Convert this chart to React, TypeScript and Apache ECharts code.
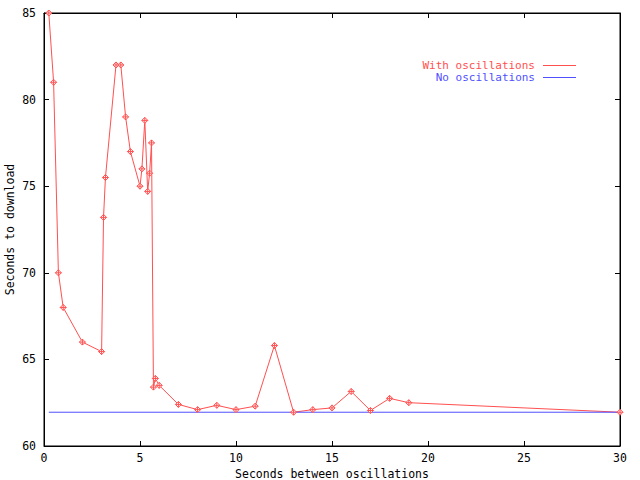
import React, { useEffect, useRef } from "react";
import * as echarts from "echarts";

const xValues = [0.25, 0.5, 0.75, 1, 2, 3, 3.1, 3.2, 3.75, 4, 4.25, 4.5, 5, 5.1, 5.25, 5.4, 5.5, 5.6, 5.7, 5.8, 6, 7, 8, 9, 10, 11, 12, 13, 14, 15, 16, 17, 18, 19, 30];
const withOscillations = [85, 81, 70, 68, 66, 65.45, 73.2, 75.5, 82, 82, 79, 77, 75, 76, 78.8, 74.7, 75.75, 77.5, 63.4, 63.9, 63.5, 62.4, 62.1, 62.35, 62.1, 62.3, 65.8, 61.95, 62.1, 62.2, 63.15, 62.05, 62.75, 62.5, 61.95];
const noOscX = [0.25, 30];
const noOscillations = [61.95, 61.95];

const seriesNames = ["With oscillations", "No oscillations"];
const xTitle = "Seconds between oscillations";
const yTitle = "Seconds to download";

const RED = "#ff5050";
const BLUE = "#5050ff";
const FONT = "'DejaVu Sans Mono', 'Liberation Mono', monospace";

export default function App() {
  const ref = useRef<HTMLDivElement>(null);
  useEffect(() => {
    document.body.style.margin = "0";
    const chart = echarts.init(ref.current!, null, { renderer: "svg" });
    const marker = "path://M0,-3 L3,0 L0,3 L-3,0 Z M-3,0 L3,0 M0,-3 L0,3";
    const axisCommon = {
      type: "value" as const,
      axisLine: { show: true, onZero: false, lineStyle: { color: "#000", width: 1 } },
      axisTick: { show: true, inside: true, length: 5, lineStyle: { color: "#000" } },
      splitLine: { show: false },
    };
    chart.setOption({
      animation: false,
      backgroundColor: "#fff",
      textStyle: { fontFamily: FONT },
      grid: {
        left: 44,
        top: 13,
        right: 20,
        bottom: 34,
        show: true,
        borderColor: "#000",
        borderWidth: 1,
        containLabel: false,
        outerBoundsMode: "none",
      },
      legend: {
        orient: "vertical",
        right: 64,
        top: 60,
        padding: 0,
        align: "right",
        itemWidth: 33,
        itemHeight: 1,
        itemGap: 1,
        icon: "rect",
        textStyle: { fontFamily: FONT, fontSize: 11, lineHeight: 10, padding: [0, 3, 0, 0] },
        data: [
          { name: seriesNames[0], textStyle: { color: RED }, itemStyle: { color: RED, borderWidth: 0 } },
          { name: seriesNames[1], textStyle: { color: BLUE }, itemStyle: { color: BLUE, borderWidth: 0 } },
        ],
      },
      xAxis: [
        {
          ...axisCommon,
          min: 0,
          max: 30,
          interval: 5,
          position: "bottom",
          name: xTitle,
          nameLocation: "middle",
          nameGap: 22,
          nameMoveOverlap: false,
          nameTextStyle: { fontFamily: FONT, fontSize: 11.5, lineHeight: 11, color: "#000" },
          axisLabel: { margin: 6, fontFamily: FONT, fontSize: 11.5, color: "#000" },
        },
        {
          ...axisCommon,
          min: 0,
          max: 30,
          interval: 5,
          position: "top",
          axisLabel: { show: false },
        },
      ],
      yAxis: [
        {
          ...axisCommon,
          min: 60,
          max: 85,
          interval: 5,
          position: "left",
          name: yTitle,
          nameLocation: "middle",
          nameGap: 28,
          nameMoveOverlap: false,
          nameTextStyle: { fontFamily: FONT, fontSize: 11.5, lineHeight: 12, color: "#000" },
          axisLabel: { margin: 8, fontFamily: FONT, fontSize: 11.5, color: "#000" },
        },
        {
          ...axisCommon,
          min: 60,
          max: 85,
          interval: 5,
          position: "right",
          axisLabel: { show: false },
        },
      ],
      series: [
        {
          name: seriesNames[0],
          type: "line",
          xAxisIndex: 0,
          yAxisIndex: 0,
          data: xValues.map((x, i) => [x, withOscillations[i]]),
          symbol: marker,
          symbolSize: 6,
          showAllSymbol: true,
          clip: false,
          lineStyle: { color: RED, width: 1 },
          itemStyle: { color: "#ffffff", borderColor: RED, borderWidth: 1 },
        },
        {
          name: seriesNames[1],
          type: "line",
          xAxisIndex: 0,
          yAxisIndex: 0,
          data: noOscX.map((x, i) => [x, noOscillations[i]]),
          symbol: "none",
          lineStyle: { color: BLUE, width: 1 },
          itemStyle: { color: BLUE },
        },
      ],
    });
    return () => chart.dispose();
  }, []);
  return <div ref={ref} style={{ width: 640, height: 480 }} />;
}
